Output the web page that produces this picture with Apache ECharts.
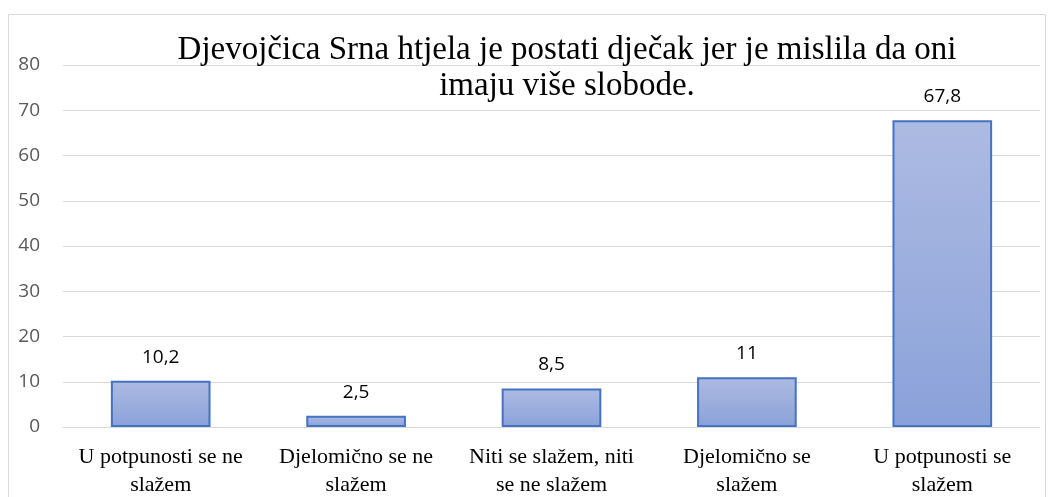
<!DOCTYPE html>
<html>
<head>
<meta charset="utf-8">
<script src="https://cdn.jsdelivr.net/npm/echarts@6/dist/echarts.min.js"></script>
<style>
html, body { margin: 0; padding: 0; background: #fff; }
#chart { width: 1054px; height: 497px; }
</style>
</head>
<body>
<div id="chart"></div>
<script>
var categories = [
    "U potpunosti se ne\nslažem",
    "Djelomično se ne\nslažem",
    "Niti se slažem, niti\nse ne slažem",
    "Djelomično se\nslažem",
    "U potpunosti se\nslažem"
];
var values = [10.2, 2.5, 8.5, 11, 67.8];
var yTicks = { min: 0, max: 80, interval: 10 };
var titleText = "Djevojčica Srna htjela je postati dječak jer je mislila da oni\nimaju više slobode.";

var chart = echarts.init(document.getElementById('chart'), null, {renderer: 'canvas'});
var option = {
    animation: false,
    backgroundColor: "#ffffff",
    graphic: [
        {
            type: "rect",
            shape: { x: 8.5, y: 14.5, width: 1037, height: 490 },
            style: { fill: "none", stroke: "#d9d9d9", lineWidth: 1 },
            silent: true
        }
    ],
    title: {
        text: titleText,
        left: 562,
        textAlign: "center",
        top: 27,
        textStyle: {
            fontFamily: "Liberation Serif",
            fontWeight: "normal",
            fontSize: 33,
            color: "#000000",
            lineHeight: 36
        }
    },
    grid: {
        left: 63,
        right: 14,
        top: 65,
        bottom: 70,
        containLabel: false,
        outerBoundsMode: "none"
    },
    xAxis: {
        type: "category",
        data: categories,
        axisLine: { show: true, lineStyle: { color: "#d9d9d9", width: 1 } },
        axisTick: { show: false },
        axisLabel: {
            interval: 0,
            margin: 16,
            fontFamily: "Liberation Serif",
            fontSize: 22,
            lineHeight: 28,
            color: "#000000"
        }
    },
    yAxis: {
        type: "value",
        min: yTicks.min,
        max: yTicks.max,
        interval: yTicks.interval,
        axisLine: { show: false },
        axisTick: { show: false },
        splitLine: { lineStyle: { color: "#d9d9d9", width: 1 } },
        axisLabel: {
            margin: 23,
            fontFamily: "Open Sans",
            fontSize: 19,
            color: "#595959"
        }
    },
    series: [
        {
            type: "bar",
            data: values,
            barWidth: "51%",
            itemStyle: {
                color: new echarts.graphic.LinearGradient(0, 0, 0, 1, [
                    { offset: 0, color: "#adbbe2" },
                    { offset: 1, color: "#8aa1d9" }
                ]),
                borderColor: "#4472c4",
                borderWidth: 2
            },
            label: {
                show: true,
                position: "top",
                distance: 14,
                fontFamily: "Open Sans",
                fontSize: 19,
                color: "#000000",
                formatter: function (p) { return String(p.value).replace(".", ","); }
            }
        }
    ]
};
chart.setOption(option);
</script>
</body>
</html>
